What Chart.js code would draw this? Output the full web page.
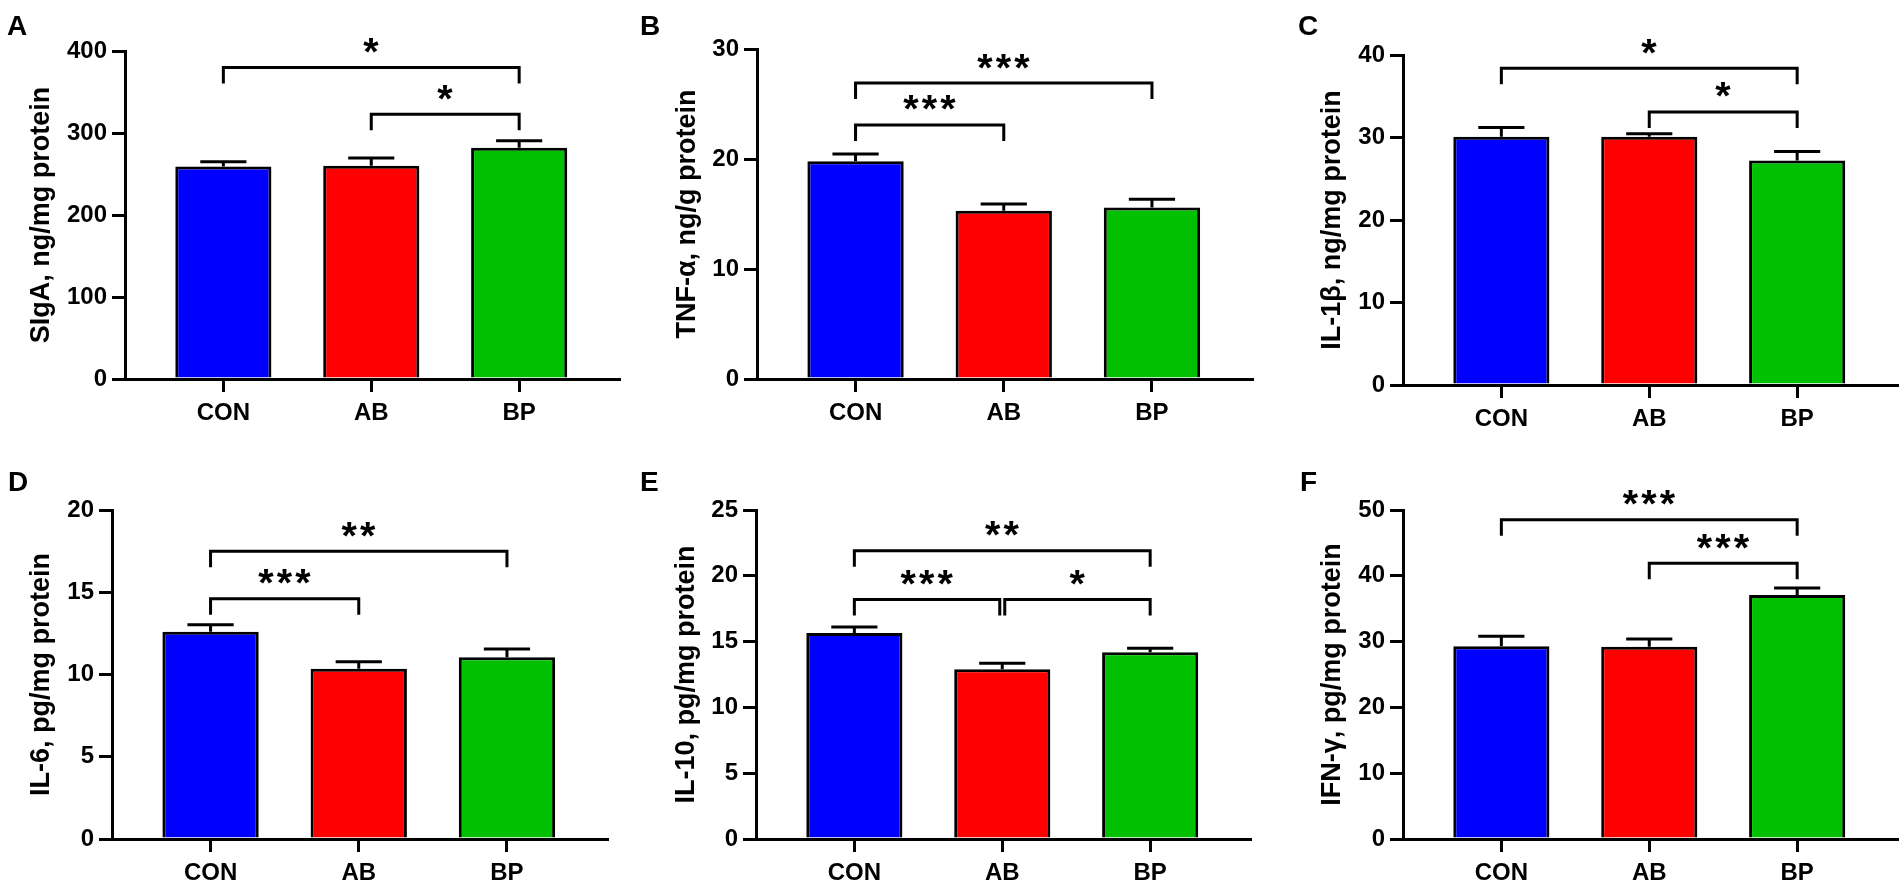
<!DOCTYPE html>
<html>
<head>
<meta charset="utf-8">
<script src="https://cdn.jsdelivr.net/npm/chart.js@4.4.1/dist/chart.umd.min.js"></script>
<style>
  html, body { margin: 0; padding: 0; background: #fff; }
  body { width: 1904px; height: 883px; position: relative; overflow: hidden; }
  .panel { position: absolute; }
</style>
</head>
<body>
<script>
const categories = ['CON', 'AB', 'BP'];
const barColors = ['#0000ff', '#ff0000', '#00c000'];

// group means and error (upper bar only)
const sigaMean = [259, 260, 282];
const sigaErr = [6, 9.5, 8.5];
const tnfMean = [19.8, 15.3, 15.6];
const tnfErr = [0.65, 0.6, 0.75];
const il1bMean = [30.1, 30.1, 27.2];
const il1bErr = [1.1, 0.35, 1.1];
const il6Mean = [12.6, 10.35, 11.05];
const il6Err = [0.42, 0.42, 0.5];
const il10Mean = [15.65, 12.9, 14.2];
const il10Err = [0.45, 0.45, 0.3];
const ifngMean = [29.3, 29.2, 37.1];
const ifngErr = [1.5, 1.2, 1.05];

// y tick labels
const sigaTicks = [0, 100, 200, 300, 400];
const tnfTicks = [0, 10, 20, 30];
const il1bTicks = [0, 10, 20, 30, 40];
const il6Ticks = [0, 5, 10, 15, 20];
const il10Ticks = [0, 5, 10, 15, 20, 25];
const ifngTicks = [0, 10, 20, 30, 40, 50];

// significance brackets: [from group, to group, bracket level, stars]
const sigaSig = [[0, 2, 380, '*'], [1, 2, 323, '*']];
const tnfSig = [[0, 2, 26.9, '***'], [0, 1, 23.1, '***']];
const il1bSig = [[0, 2, 38.4, '*'], [1, 2, 33.1, '*']];
const il6Sig = [[0, 2, 17.5, '**'], [0, 1, 14.6, '***']];
const il10Sig = [[0, 2, 21.9, '**'], [0, 1, 18.2, '***'], [1, 2, 18.2, '*']];
const ifngSig = [[0, 2, 48.5, '***'], [1, 2, 41.9, '***']];

const FONT = "'Liberation Sans', Arial, Helvetica, sans-serif";
Chart.defaults.font.family = FONT;
Chart.defaults.color = '#000';

// page layout: canvas box, plot area (page px), title / letter spots
const panels = [
  { id: 'A', left: 0, top: 0, w: 630, h: 440, area: [125, 51, 619, 379], titleX: 42, letterX: 7, letterY: 35,
    title: 'SIgA, ng/mg protein', mean: sigaMean, err: sigaErr, ticks: sigaTicks, sig: sigaSig },
  { id: 'B', left: 630, top: 0, w: 638, h: 440, area: [757, 49, 1252, 379], titleX: 688, letterX: 640, letterY: 35,
    title: 'TNF-\u03b1, ng/g protein', mean: tnfMean, err: tnfErr, ticks: tnfTicks, sig: tnfSig },
  { id: 'C', left: 1268, top: 0, w: 636, h: 440, area: [1403, 55, 1897, 385], titleX: 1333, letterX: 1298, letterY: 35,
    title: 'IL-1\u03b2, ng/mg protein', mean: il1bMean, err: il1bErr, ticks: il1bTicks, sig: il1bSig },
  { id: 'D', left: 0, top: 440, w: 630, h: 443, area: [112, 510, 607, 839], titleX: 42, letterX: 8, letterY: 491,
    title: 'IL-6, pg/mg protein', mean: il6Mean, err: il6Err, ticks: il6Ticks, sig: il6Sig },
  { id: 'E', left: 630, top: 440, w: 638, h: 443, area: [756, 510, 1250, 839], titleX: 687, letterX: 640, letterY: 491,
    title: 'IL-10, pg/mg protein', mean: il10Mean, err: il10Err, ticks: il10Ticks, sig: il10Sig },
  { id: 'F', left: 1268, top: 440, w: 636, h: 443, area: [1403, 510, 1897, 839], titleX: 1333, letterX: 1300, letterY: 491,
    title: 'IFN-\u03b3, pg/mg protein', mean: ifngMean, err: ifngErr, ticks: ifngTicks, sig: ifngSig }
];

const errorBars = {
  id: 'errorBars',
  afterDatasetsDraw(chart, args, opts) {
    const p = opts.panel;
    const ctx = chart.ctx;
    const y = chart.scales.y;
    ctx.save();
    ctx.strokeStyle = '#000';
    ctx.lineWidth = 3;
    chart.getDatasetMeta(0).data.forEach((bar, i) => {
      const y0 = y.getPixelForValue(p.mean[i]);
      const y1 = y.getPixelForValue(p.mean[i] + p.err[i]);
      const half = bar.width * 0.24;
      ctx.beginPath();
      ctx.moveTo(bar.x, y0);
      ctx.lineTo(bar.x, y1);
      ctx.moveTo(bar.x - half, y1);
      ctx.lineTo(bar.x + half, y1);
      ctx.stroke();
    });
    ctx.restore();
  }
};

function drawStar(ctx, cx, cy) {
  ctx.font = 'bold 100px ' + FONT;
  const m0 = ctx.measureText('*');
  const h0 = m0.actualBoundingBoxAscent + m0.actualBoundingBoxDescent;
  const size = 100 * 15 / h0;
  ctx.font = 'bold ' + size + 'px ' + FONT;
  const m = ctx.measureText('*');
  const gx = cx - (m.actualBoundingBoxRight - m.actualBoundingBoxLeft) / 2;
  const gy = cy + (m.actualBoundingBoxAscent - m.actualBoundingBoxDescent) / 2;
  ctx.textAlign = 'left';
  ctx.textBaseline = 'alphabetic';
  ctx.fillText('*', gx + m.actualBoundingBoxLeft, gy);
}

const brackets = {
  id: 'brackets',
  afterDraw(chart, args, opts) {
    const p = opts.panel;
    const ctx = chart.ctx;
    const x = chart.scales.x, y = chart.scales.y;
    ctx.save();
    ctx.strokeStyle = '#000';
    ctx.fillStyle = '#000';
    ctx.lineWidth = 3;
    ctx.lineJoin = 'miter';
    p.sig.forEach(([a, b, level, label]) => {
      let xa = x.getPixelForValue(a);
      let xb = x.getPixelForValue(b);
      // neighbouring brackets on one level share a leg: nudge them apart
      p.sig.forEach(([a2, b2, l2]) => {
        if (l2 !== level) return;
        if (b2 === a) xa += 2.5;
        if (a2 === b) xb -= 2.5;
      });
      const yl = y.getPixelForValue(level);
      ctx.beginPath();
      ctx.moveTo(xa, yl + 16);
      ctx.lineTo(xa, yl);
      ctx.lineTo(xb, yl);
      ctx.lineTo(xb, yl + 16);
      ctx.stroke();
      const mid = (xa + xb) / 2;
      const n = label.length;
      for (let k = 0; k < n; k++) {
        drawStar(ctx, mid + (k - (n - 1) / 2) * 18.5, yl - 22);
      }
    });
    // panel letter
    ctx.font = 'bold 28px ' + FONT;
    ctx.textAlign = 'left';
    ctx.textBaseline = 'alphabetic';
    ctx.fillText(p.id, p.letterX - p.left, p.letterY - p.top);
    ctx.restore();
  }
};

function makeChart(p) {
  const div = document.createElement('div');
  div.className = 'panel';
  div.style.left = p.left + 'px';
  div.style.top = p.top + 'px';
  div.style.width = p.w + 'px';
  div.style.height = p.h + 'px';
  const cv = document.createElement('canvas');
  div.appendChild(cv);
  document.body.appendChild(div);

  const [aL, aT, aR, aB] = p.area;
  const tickFont = { size: 24, weight: 'bold' };
  const grid = { drawOnChartArea: false, offset: false, color: '#000', lineWidth: 3, tickLength: 13 };
  const border = { color: '#000', width: 3 };

  new Chart(cv, {
    type: 'bar',
    data: {
      datasets: [{
        data: p.mean.map((v, i) => ({ x: i, y: v })),
        backgroundColor: barColors,
        borderColor: '#000',
        borderWidth: 3,
        barPercentage: 0.65,
        categoryPercentage: 1
      }]
    },
    options: {
      responsive: true,
      maintainAspectRatio: false,
      animation: false,
      layout: { padding: { top: aT - p.top, right: p.left + p.w - aR, left: 0, bottom: 0 } },
      plugins: {
        legend: { display: false },
        tooltip: { enabled: false },
        errorBars: { panel: p },
        brackets: { panel: p }
      },
      scales: {
        x: {
          type: 'linear',
          min: -0.665,
          max: 2.675,
          offset: false,
          afterBuildTicks: s => { s.ticks = categories.map((c, i) => ({ value: i })); },
          afterFit: s => { s.height = p.top + p.h - aB; },
          ticks: { callback: v => categories[v], font: tickFont, color: '#000', padding: 7, maxRotation: 0, autoSkip: false },
          grid: grid,
          border: border
        },
        y: {
          min: 0,
          max: p.ticks[p.ticks.length - 1],
          afterBuildTicks: s => { s.ticks = p.ticks.map(v => ({ value: v })); },
          afterFit: s => { s.width = aL - p.left; },
          ticks: { font: tickFont, color: '#000', padding: 5 },
          grid: grid,
          border: border,
          title: {
            display: true,
            text: p.title,
            color: '#000',
            font: { size: 27, weight: 'bold', lineHeight: 1 },
            padding: { top: p.titleX - p.left - 13.5, bottom: 0 }
          }
        }
      }
    },
    plugins: [errorBars, brackets]
  });
}

panels.forEach(makeChart);
</script>
</body>
</html>
